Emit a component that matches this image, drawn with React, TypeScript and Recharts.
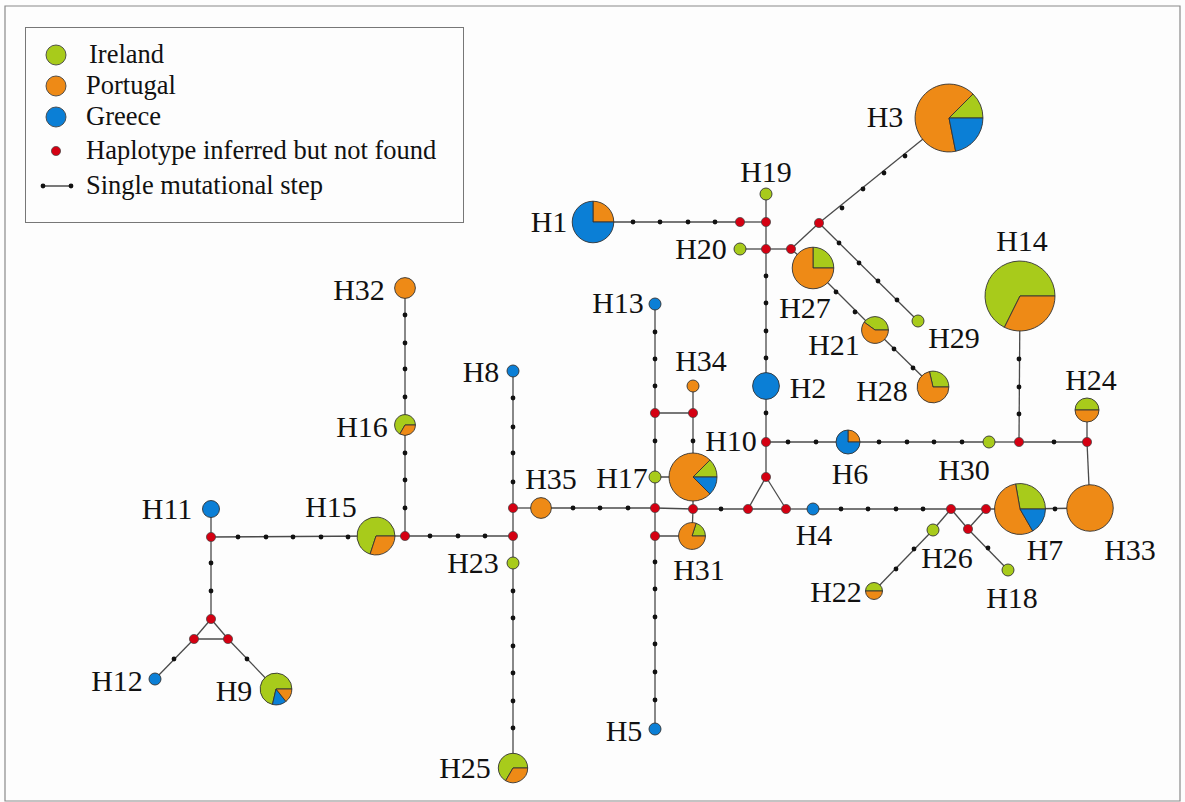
import { ScatterChart, Scatter, XAxis, YAxis, ReferenceLine, ReferenceArea } from "recharts";

const W = 1185;
const H = 802;
const FONT = "'Liberation Serif', 'Times New Roman', serif";

const COLORS: Record<string, string> = {
  ireland: "#a8cb1b",
  portugal: "#ee8a16",
  greece: "#0b7fd6",
};
const RED = "#d40012";

// haplotypes (layout position of the network + counts per country)
const hapNames = ["H1", "H2", "H3", "H4", "H5", "H6", "H7", "H8", "H9", "H10", "H11", "H12", "H13", "H14", "H15", "H16", "H17", "H18", "H19", "H20", "H21", "H22", "H23", "H24", "H25", "H26", "H27", "H28", "H29", "H30", "H31", "H32", "H33", "H34", "H35"];
const hapX = [593, 766, 949, 813, 655, 848, 1020, 513, 276, 693, 211, 155, 655, 1020, 376, 405, 655, 1008, 766, 740, 875, 874, 513, 1087, 513, 933, 813, 933, 918, 989, 692, 405, 1090, 693, 541];
const hapY = [222, 386, 118, 509, 729, 442, 509, 371, 689, 477, 509, 679, 304, 296, 536, 425, 477, 570, 194, 249, 330, 591, 563, 410, 768, 530, 268, 387, 321, 442, 536, 288, 508, 386, 508];
const ireland = [0, 0, 4, 0, 0, 0, 5, 0, 5, 2, 0, 0, 0, 23, 7, 2, 1, 1, 1, 1, 2, 1, 1, 2, 4, 1, 3, 2, 1, 1, 1, 0, 0, 0, 0];
const portugal = [3, 0, 21, 0, 0, 1, 10, 0, 1, 12, 0, 0, 0, 11, 3, 1, 0, 0, 0, 0, 3, 1, 0, 2, 2, 0, 9, 5, 0, 0, 4, 3, 15, 1, 3];
const greece = [9, 5, 7, 1, 1, 3, 3, 1, 1, 2, 2, 1, 1, 0, 0, 0, 0, 0, 0, 0, 0, 0, 0, 0, 0, 0, 0, 0, 0, 0, 0, 0, 0, 0, 0];

// inferred (missing) haplotypes
const inferredNames = ["R1", "R2", "R3", "R4", "R5", "R6", "R7", "R8", "R9", "R10", "R11", "R12", "R13", "R14", "R15", "R16", "R17", "R18", "R19", "R20", "R21", "R22", "R23", "R24", "R25", "R26"];
const inferredX = [740, 766, 766, 791, 819, 766, 1019, 1087, 986, 951, 968, 786, 748, 766, 693, 693, 655, 655, 513, 513, 405, 211, 211, 194, 228, 655];
const inferredY = [222, 222, 249, 249, 223, 442, 442, 442, 509, 509, 529, 509, 509, 477, 509, 413, 413, 508, 508, 536, 536, 537, 619, 639, 639, 536];

// network links
const edgeFrom = ["H1", "R1", "R2", "R2", "R3", "R3", "R4", "R4", "R5", "R5", "H27", "H21", "R3", "H2", "R6", "H6", "H30", "R7", "R8", "R7", "R8", "H33", "H7", "R9", "R9", "R10", "R11", "R10", "H26", "H4", "R12", "R12", "R13", "R14", "R14", "R15", "R15", "H10", "R16", "R16", "R17", "R17", "H17", "H17", "R18", "R18", "H35", "R19", "R19", "R20", "H23", "R20", "R21", "H16", "R21", "H15", "R22", "R22", "R23", "R23", "R24", "R24", "R25", "R18", "R26", "R15", "R26"];
const edgeTo = ["R1", "R2", "H19", "R3", "H20", "R4", "H27", "R5", "H3", "H29", "H21", "H28", "H2", "R6", "H6", "H30", "R7", "R8", "H24", "H14", "H33", "H7", "R9", "R10", "R11", "R11", "H18", "H26", "H22", "R10", "H4", "R13", "R14", "R12", "R6", "R13", "H10", "R16", "H34", "R17", "H13", "H17", "R18", "H10", "R15", "H35", "R19", "H8", "R20", "H23", "H25", "R21", "H16", "H32", "H15", "R22", "H11", "R23", "R24", "R25", "R25", "H12", "H9", "R26", "H31", "H31", "H5"];

// single mutational steps along the links
const stepX = [633, 660, 688, 715, 842, 863, 884, 905, 839, 859, 878, 897, 836, 855, 894, 913, 766, 766, 766, 766, 766, 788, 816, 879, 907, 934, 962, 1054, 1019, 1019, 1019, 1055, 988, 914, 896, 841, 868, 896, 923, 721, 693, 655, 655, 655, 655, 573, 600, 628, 513, 513, 513, 513, 513, 513, 513, 513, 513, 513, 430, 458, 485, 405, 405, 405, 405, 405, 405, 405, 238, 266, 293, 321, 348, 211, 211, 174, 247, 655, 655, 655, 655, 655, 655];
const stepY = [222, 222, 222, 222, 208, 189, 173, 156, 243, 263, 281, 300, 292, 312, 349, 368, 276, 303, 331, 358, 413, 442, 442, 442, 442, 442, 442, 442, 359, 387, 414, 509, 548, 549, 569, 509, 509, 509, 509, 509, 441, 332, 359, 386, 441, 508, 508, 508, 398, 427, 453, 482, 591, 618, 646, 673, 701, 728, 536, 536, 536, 453, 480, 508, 315, 343, 369, 397, 537, 537, 537, 537, 537, 563, 591, 659, 659, 562, 589, 617, 644, 672, 700];

// label placement relative to node centre
const labelOffset: Record<string, [number, number]> = {
  H1: [-44, 0], H2: [42, 2], H3: [-64, -1], H4: [1, 26], H5: [-31, 2], H6: [2, 32], H7: [25, 41],
  H8: [-32, 1], H9: [-42, 2], H10: [38, -36], H11: [-44, 0], H12: [-38, 2], H13: [-37, -1],
  H14: [2, -55], H15: [-45, -29], H16: [-43, 2], H17: [-33, 1], H18: [4, 28], H19: [0, -22],
  H20: [-39, 0], H21: [-41, 15], H22: [-38, 1], H23: [-40, 0], H24: [4, -30], H25: [-48, 0],
  H26: [14, 28], H27: [-8, 40], H28: [-51, 4], H29: [36, 17], H30: [-25, 28], H31: [7, 34],
  H32: [-46, 2], H33: [40, 42], H34: [8, -25], H35: [10, -29],
};

const sliceOrder: Record<string, string[]> = {
  H9: ["ireland", "greece", "portugal"],
};

const hapData = hapNames.map((name, i) => ({
  name,
  x: hapX[i],
  y: hapY[i],
  ireland: ireland[i],
  portugal: portugal[i],
  greece: greece[i],
}));
const inferredData = inferredNames.map((name, i) => ({ name, x: inferredX[i], y: inferredY[i] }));
const stepData = stepX.map((x, i) => ({ x, y: stepY[i] }));

const lookup: Record<string, { x: number; y: number }> = {};
hapData.forEach((d) => (lookup[d.name] = d));
inferredData.forEach((d) => (lookup[d.name] = d));

function PieNode(props: any) {
  const { cx, cy, payload } = props;
  const total = payload.ireland + payload.portugal + payload.greece;
  const r = 6 * Math.sqrt(total);
  const order = sliceOrder[payload.name] ?? ["ireland", "portugal", "greece"];
  const parts = order.filter((k) => payload[k] > 0);
  const [ldx, ldy] = labelOffset[payload.name] ?? [0, 0];
  const label = (
    <text x={cx + ldx} y={cy + ldy + 10} textAnchor="middle" fontFamily={FONT} fontSize={30} fill="#111">
      {payload.name}
    </text>
  );
  if (parts.length === 1) {
    return (
      <g>
        <circle cx={cx} cy={cy} r={r} fill={COLORS[parts[0]]} stroke="#333" strokeWidth={0.9} />
        {label}
      </g>
    );
  }
  let a0 = 0;
  const paths = parts.map((k) => {
    const a1 = a0 + (payload[k] / total) * Math.PI * 2;
    const x0 = cx + r * Math.cos(a0);
    const y0 = cy - r * Math.sin(a0);
    const x1 = cx + r * Math.cos(a1);
    const y1 = cy - r * Math.sin(a1);
    const large = a1 - a0 > Math.PI ? 1 : 0;
    const d = `M${cx},${cy} L${x0},${y0} A${r},${r} 0 ${large} 0 ${x1},${y1} Z`;
    a0 = a1;
    return <path key={k} d={d} fill={COLORS[k]} stroke="#333" strokeWidth={0.9} strokeLinejoin="round" />;
  });
  return (
    <g>
      {paths}
      {label}
    </g>
  );
}

function RedDot(props: any) {
  return <circle cx={props.cx} cy={props.cy} r={4.6} fill={RED} stroke="#444" strokeWidth={0.7} />;
}

function StepDot(props: any) {
  return <circle cx={props.cx} cy={props.cy} r={2.4} fill="#111" />;
}

function LegendBox() {
  const items = [
    { label: "Ireland", color: COLORS.ireland, y: 27, tx: 63 },
    { label: "Portugal", color: COLORS.portugal, y: 58, tx: 60 },
    { label: "Greece", color: COLORS.greece, y: 89, tx: 60 },
  ];
  return (
    <div
      style={{
        position: "absolute",
        left: 25,
        top: 27,
        width: 437,
        height: 194,
        border: "1.4px solid #777",
        background: "#fdfdfd",
      }}
    >
      <svg width={437} height={194}>
        {items.map((it) => (
          <g key={it.label}>
            <circle cx={30} cy={it.y} r={10} fill={it.color} stroke="#444" strokeWidth={0.9} />
            <text x={it.tx} y={it.y + 8} fontFamily={FONT} fontSize={26.5} fill="#111">
              {it.label}
            </text>
          </g>
        ))}
        <circle cx={30} cy={123} r={4.6} fill={RED} stroke="#444" strokeWidth={0.7} />
        <text x={60} y={131} fontFamily={FONT} fontSize={26.5} fill="#111">
          Haplotype inferred but not found
        </text>
        <line x1={17} y1={158} x2={45} y2={158} stroke="#222" strokeWidth={1.2} />
        <circle cx={17} cy={158} r={2.4} fill="#111" />
        <circle cx={45} cy={158} r={2.4} fill="#111" />
        <text x={60} y={166} fontFamily={FONT} fontSize={26.5} fill="#111">
          Single mutational step
        </text>
      </svg>
    </div>
  );
}

export default function App() {
  return (
    <div style={{ position: "absolute", left: 0, top: 0, width: W, height: H, background: "#fdfdfd" }}>
      <ScatterChart width={W} height={H} margin={{ top: 0, right: 0, bottom: 0, left: 0 }}>
        <XAxis type="number" dataKey="x" domain={[0, W]} hide allowDataOverflow />
        <YAxis type="number" dataKey="y" domain={[0, H]} reversed hide allowDataOverflow />
        <ReferenceArea x1={5} x2={1180} y1={6} y2={801} fill="none" stroke="#8a8a8a" strokeWidth={1.2} ifOverflow="visible" />
        {edgeFrom.map((a, i) => {
          const p = lookup[a];
          const q = lookup[edgeTo[i]];
          return (
            <ReferenceLine
              key={`e-${i}`}
              segment={[{ x: p.x, y: p.y }, { x: q.x, y: q.y }]}
              stroke="#4a4a4a"
              strokeWidth={1.3}
              ifOverflow="visible"
            />
          );
        })}
        <Scatter data={stepData} shape={<StepDot />} isAnimationActive={false} />
        <Scatter data={inferredData} shape={<RedDot />} isAnimationActive={false} />
        <Scatter data={hapData} shape={(p: any) => <PieNode {...p} />} isAnimationActive={false} />
      </ScatterChart>
      <LegendBox />
    </div>
  );
}
